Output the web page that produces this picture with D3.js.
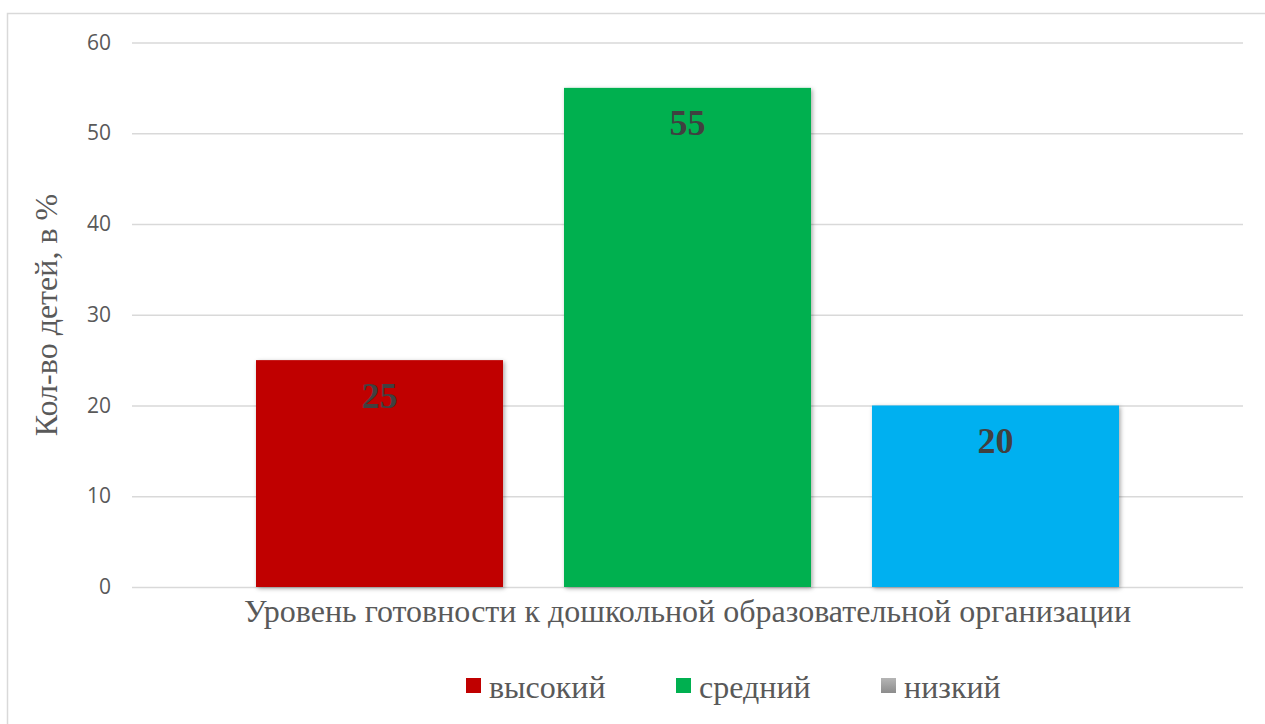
<!DOCTYPE html>
<html><head><meta charset="utf-8">
<script src="https://cdn.jsdelivr.net/npm/d3@7"></script>
<style>body{margin:0;background:#fff}svg{display:block}</style>
</head><body>
<script>
const category = ["Уровень готовности к дошкольной образовательной организации"];
const seriesNames = ["высокий", "средний", "низкий"];
const seriesValues = [25, 55, 20];
const barColors = ["#C00000", "#00B050", "#00B0F0"];
const legendColors = ["#C00000", "#00B050", "#A6A6A6"];
const yTicks = [0, 10, 20, 30, 40, 50, 60];
const yTitle = "Кол-во детей, в %";

(function(){
const W = 1265, H = 724;
const svg = d3.select("body").append("svg").attr("width", W).attr("height", H);
const defs = svg.append("defs");
const f = defs.append("filter").attr("id","sh").attr("x","-10%").attr("y","-10%").attr("width","130%").attr("height","130%");
f.append("feDropShadow").attr("dx",1.5).attr("dy",1.5).attr("stdDeviation",2).attr("flood-color","#000").attr("flood-opacity",0.35);
const lg = defs.append("linearGradient").attr("id","gr").attr("x1",0).attr("y1",0).attr("x2",0).attr("y2",1);
lg.append("stop").attr("offset","0%").attr("stop-color","#B5B5B5");
lg.append("stop").attr("offset","100%").attr("stop-color","#8C8C8C");

svg.append("rect").attr("x",7.5).attr("y",13.5).attr("width",1270).attr("height",720)
  .attr("fill","#fff").attr("stroke","#D9D9D9").attr("stroke-width",1.5);

const pl = 132, pr = 1243, pt = 42.5, pb = 587;
const y = d3.scaleLinear().domain([0, 60]).range([pb, pt]);
const x0 = d3.scaleBand().domain(category).range([pl, pr]).paddingOuter(0).paddingInner(0);
const x1 = d3.scaleBand().domain(seriesNames).range([x0(category[0]) + 124, x0(category[0]) + x0.bandwidth() - 124]).paddingInner(0.198).paddingOuter(0);

const ax = d3.axisLeft(y).tickValues(yTicks).tickSize(-(pr-pl)).tickPadding(21);
const g = svg.append("g").attr("transform", `translate(${pl},0)`).call(ax);
g.select(".domain").remove();
g.selectAll(".tick line").attr("stroke","#D9D9D9").attr("stroke-width",1.5);
g.selectAll(".tick text").attr("fill","#595959").style("font-family","'Open Sans', sans-serif").style("font-size","21px");

svg.append("g").selectAll("rect").data(seriesValues).join("rect")
  .attr("x",(d,i)=>x1(seriesNames[i])).attr("width",x1.bandwidth())
  .attr("y",d=>y(d)).attr("height",d=>pb-y(d))
  .attr("fill",(d,i)=>barColors[i]).attr("filter","url(#sh)");

svg.append("g").selectAll("text").data(seriesValues).join("text")
  .attr("x",(d,i)=>x1(seriesNames[i]) + x1.bandwidth()/2)
  .attr("y",d=>y(d)+47.5)
  .attr("text-anchor","middle").attr("fill","#404040")
  .style("font-family","'Liberation Serif', serif").style("font-weight","bold").style("font-size","36px")
  .text(d=>d);

svg.append("text").attr("x",x0(category[0])+x0.bandwidth()/2).attr("y",622)
  .attr("text-anchor","middle").attr("fill","#595959")
  .style("font-family","'Liberation Serif', serif").style("font-size","32px").text(category[0]);

svg.append("text").attr("transform","translate(57,315) rotate(-90)")
  .attr("text-anchor","middle").attr("fill","#595959")
  .style("font-family","'Liberation Serif', serif").style("font-size","32px").text(yTitle);

const legX = [466, 676, 881];
const leg = svg.append("g").selectAll("g").data(seriesNames).join("g")
  .attr("transform",(d,i)=>`translate(${legX[i]},678)`);
leg.append("rect").attr("width",15).attr("height",15)
  .attr("fill",(d,i)=> i===2 ? "url(#gr)" : legendColors[i]);
leg.append("text").attr("x",23).attr("y",19.5).attr("fill","#595959")
  .style("font-family","'Liberation Serif', serif").style("font-size","32px").text(d=>d);
})();
</script>
</body></html>
